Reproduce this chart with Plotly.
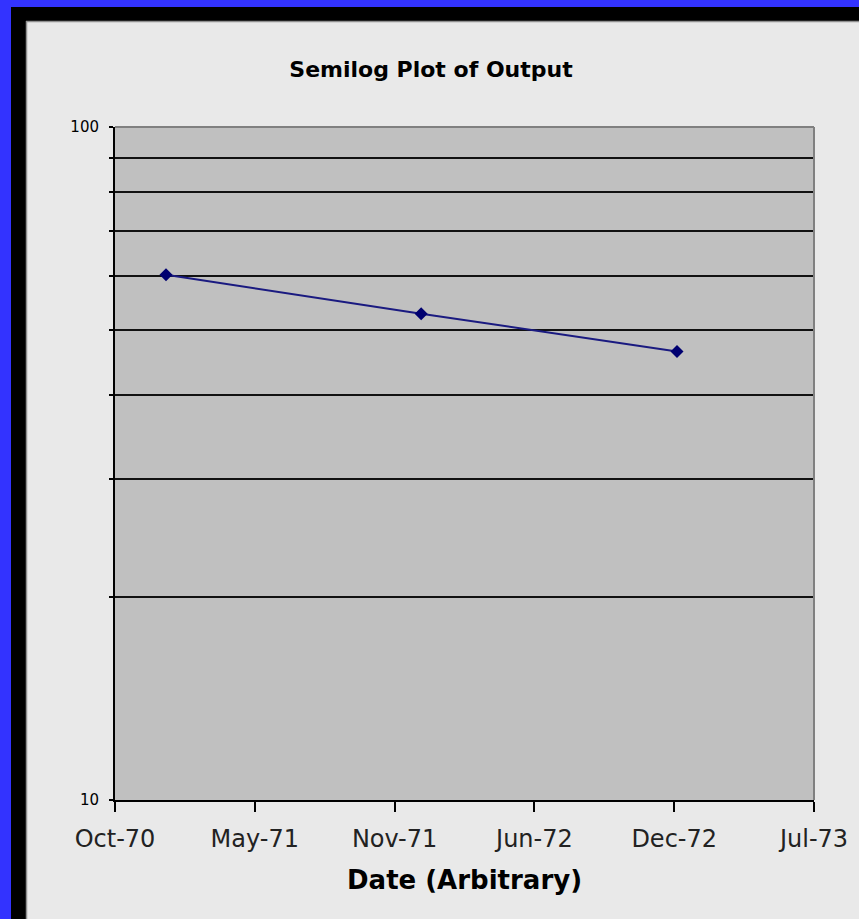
import plotly.graph_objects as go

# ---- data ----
dates = ["1971-01-01", "1972-01-01", "1973-01-01"]
output = [60.3, 52.8, 46.4]

x_tick_dates = ["1970-10-20", "1971-05-08", "1971-11-24", "1972-06-11", "1972-12-28", "1973-07-16"]
x_tick_labels = ["Oct-70", "May-71", "Nov-71", "Jun-72", "Dec-72", "Jul-73"]

y_tick_vals = [10, 20, 30, 40, 50, 60, 70, 80, 90, 100]
y_tick_labels = ["10", "", "", "", "", "", "", "", "", "100"]

title_text = "Semilog Plot of Output"
x_title_text = "Date (Arbitrary)"

# ---- layout geometry (pixels) ----
W, H = 859, 919
L, R, T, B = 115, 814, 127, 800
PW, PH = R - L, B - T


def px(x):
    return (x - L) / PW


def py(y):
    return (B - y) / PH


fig = go.Figure()
fig.add_trace(go.Scatter(
    x=dates, y=output, mode="lines+markers",
    line=dict(color="#1a1a80", width=2),
    marker=dict(symbol="diamond", size=10, color="#000070"),
    showlegend=False,
))

shapes = []
# outer blue and black frame
shapes.append(dict(type="rect", xref="paper", yref="paper", x0=px(-50), x1=px(W + 50), y0=py(7), y1=py(-50),
                   fillcolor="#3333ff", line=dict(width=0), layer="above"))
shapes.append(dict(type="rect", xref="paper", yref="paper", x0=px(-50), x1=px(11), y0=py(H + 50), y1=py(7),
                   fillcolor="#3333ff", line=dict(width=0), layer="above"))
shapes.append(dict(type="rect", xref="paper", yref="paper", x0=px(11), x1=px(W + 50), y0=py(21), y1=py(7),
                   fillcolor="#000000", line=dict(width=0), layer="above"))
shapes.append(dict(type="rect", xref="paper", yref="paper", x0=px(11), x1=px(26), y0=py(H + 50), y1=py(21),
                   fillcolor="#000000", line=dict(width=0), layer="above"))
shapes.append(dict(type="line", xref="paper", yref="paper", x0=px(26), x1=px(W + 50), y0=py(21.5), y1=py(21.5),
                   line=dict(color="#909090", width=1.5), layer="above"))
shapes.append(dict(type="line", xref="paper", yref="paper", x0=px(26.5), x1=px(26.5), y0=py(H + 50), y1=py(21),
                   line=dict(color="#909090", width=1.5), layer="above"))
# plot area top/right border (gray)
shapes.append(dict(type="line", xref="paper", yref="paper", x0=0, x1=1, y0=1, y1=1,
                   line=dict(color="#808080", width=2), layer="above"))
shapes.append(dict(type="line", xref="paper", yref="paper", x0=1, x1=1, y0=0, y1=1,
                   line=dict(color="#808080", width=2), layer="above"))

fig.update_layout(
    width=W, height=H,
    margin=dict(l=L, r=W - R, t=T, b=H - B, pad=0),
    paper_bgcolor="#e9e9e9",
    plot_bgcolor="#c0c0c0",
    shapes=shapes,
    title=dict(text=title_text, x=431 / W, xanchor="center", xref="container",
               y=1 - 69 / H, yanchor="middle", yref="container",
               font=dict(family="DejaVu Sans", size=22, color="#000000", weight="bold")),
    annotations=[dict(text=x_title_text, xref="paper", yref="paper", x=0.5, y=py(880),
                      xanchor="center", yanchor="middle", showarrow=False,
                      font=dict(family="DejaVu Sans", size=26, color="#000000", weight="bold"))],
    xaxis=dict(
        type="date", range=[x_tick_dates[0], x_tick_dates[-1]],
        tickmode="array", tickvals=x_tick_dates, ticktext=x_tick_labels,
        showgrid=False, zeroline=False,
        showline=True, linecolor="#000000", linewidth=2,
        ticks="outside", ticklen=10, tickwidth=1.5, tickcolor="#000000",
        ticklabelstandoff=6,
        tickfont=dict(family="DejaVu Sans", size=24, color="#222222"),
    ),
    yaxis=dict(
        type="log", range=[1, 2],
        tickmode="array", tickvals=y_tick_vals, ticktext=y_tick_labels,
        showgrid=True, gridcolor="#111111", gridwidth=2,
        zeroline=False,
        showline=True, linecolor="#000000", linewidth=2,
        ticks="outside", ticklen=4, tickwidth=1.5, tickcolor="#000000",
        ticklabelstandoff=7,
        tickfont=dict(family="DejaVu Sans", size=15, color="#000000"),
    ),
)

fig.write_html("out.html", config={"displayModeBar": False},
               post_script="document.body.style.margin='0';document.body.style.overflow='hidden';")
